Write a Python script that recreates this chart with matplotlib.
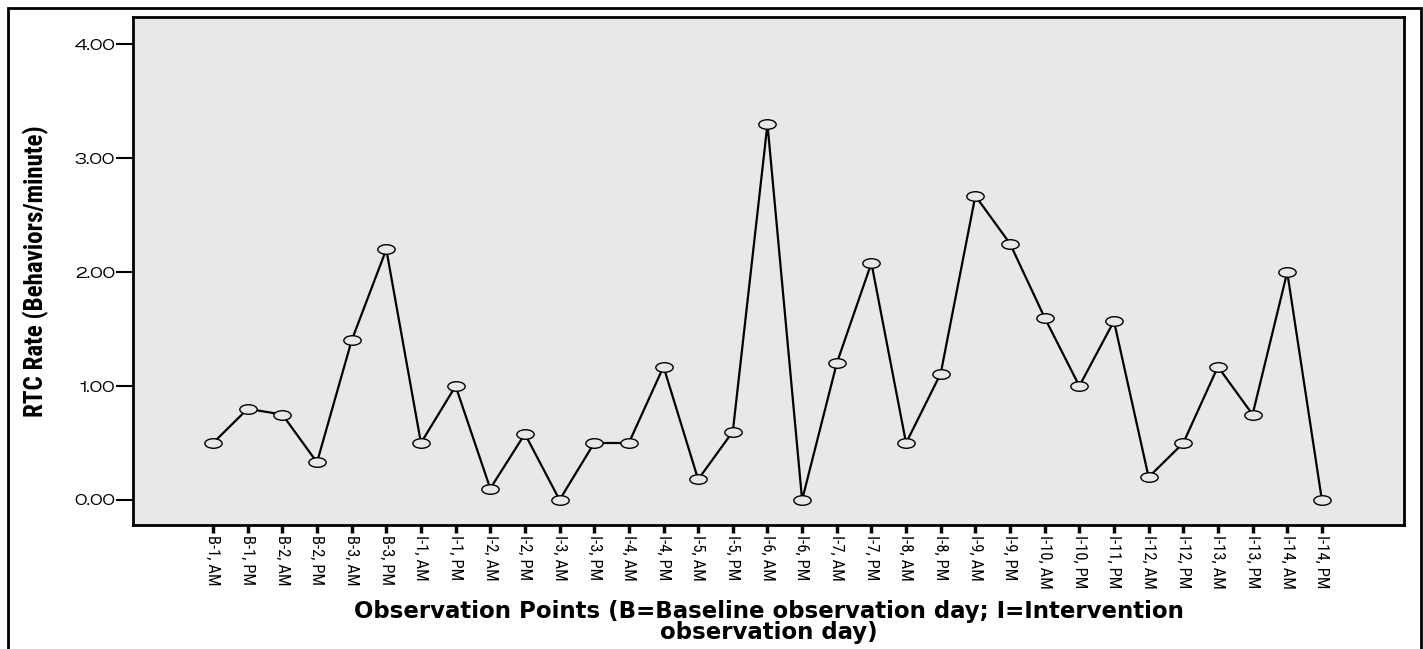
import matplotlib
matplotlib.use("Agg")
import matplotlib.pyplot as plt
from matplotlib.path import Path
from matplotlib.transforms import Affine2D
from matplotlib.patches import Rectangle

# observation points (I-11, AM is not in the source chart)
labels = ["B-1, AM", "B-1, PM", "B-2, AM", "B-2, PM", "B-3, AM", "B-3, PM",
          "I-1, AM", "I-1, PM", "I-2, AM", "I-2, PM", "I-3, AM", "I-3, PM",
          "I-4, AM", "I-4, PM", "I-5, AM", "I-5, PM", "I-6, AM", "I-6, PM",
          "I-7, AM", "I-7, PM", "I-8, AM", "I-8, PM", "I-9, AM", "I-9, PM",
          "I-10, AM", "I-10, PM", "I-11, PM", "I-12, AM", "I-12, PM",
          "I-13, AM", "I-13, PM", "I-14, AM", "I-14, PM"]
rtc_rate = [0.50, 0.80, 0.75, 0.33, 1.40, 2.20,
            0.50, 1.00, 0.10, 0.58, 0.00, 0.50,
            0.50, 1.17, 0.18, 0.60, 3.30, 0.00,
            1.20, 2.08, 0.50, 1.11, 2.67, 2.25,
            1.60, 1.00, 1.57, 0.20, 0.50,
            1.17, 0.75, 2.00, 0.00]
y_ticks = [0, 1, 2, 3, 4]

narrow = ["Roboto Condensed", "Liberation Sans", "DejaVu Sans"]
wide = ["Zalando Sans Expanded", "DejaVu Sans"]

W, H = 1423, 649
fig = plt.figure(figsize=(W / 100, H / 100), dpi=100)
fig.patch.set_facecolor("white")

# outer frame around the whole graphic
fig.patches.append(Rectangle((8 / W, -0.01), (1421 - 8) / W, 1 - 8 / H + 0.01,
                             transform=fig.transFigure, fill=False,
                             edgecolor="black", linewidth=2))

ax = fig.add_axes([133 / W, 1 - 525 / H, (1404 - 133) / W, (525 - 17) / H])
ax.set_facecolor("#e8e8e8")

# open ellipse marker like SPSS
ellipse = Path.unit_circle().transformed(Affine2D().scale(1.0, 0.55))

x = list(range(len(labels)))
ax.plot(x, rtc_rate, color="black", linewidth=1.6,
        marker=ellipse, markersize=12.5, markerfacecolor="#e8e8e8",
        markeredgecolor="black", markeredgewidth=1.0)

ax.set_xlim(-2.31, len(labels) - 1 + 2.37)
ax.set_ylim(-0.22, 4.24)

ax.set_yticks(y_ticks)
ax.set_yticklabels([f"{v:.2f}" for v in y_ticks], fontsize=10.5, family=wide)
ax.set_xticks(x)
ax.set_xticklabels(labels, rotation=270, fontsize=12, family=narrow)

ax.tick_params(axis="y", length=12, width=1.5, pad=1)
ax.tick_params(axis="x", length=6, width=2.5, pad=1)

for s in ax.spines.values():
    s.set_linewidth(2)

ax.set_ylabel("RTC Rate (Behaviors/minute)", fontsize=18, fontweight="bold",
              family=narrow, labelpad=18)
ax.set_xlabel("Observation Points (B=Baseline observation day; I=Intervention\n"
              "observation day)", fontsize=16.5, fontweight="bold",
              family=["DejaVu Sans"], linespacing=0.88, labelpad=8)

fig.savefig("out.png", dpi=100)
